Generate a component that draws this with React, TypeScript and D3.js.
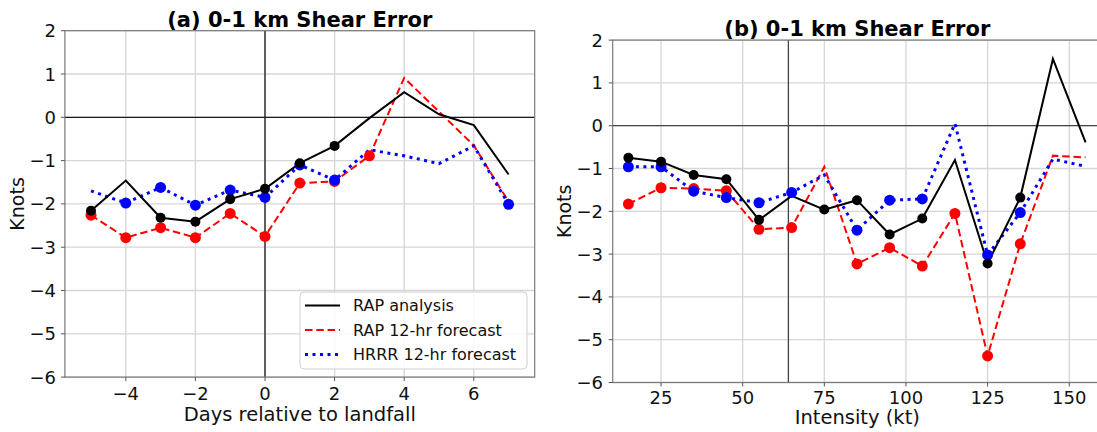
import React from 'react';
import * as d3 from 'd3';

// ---------- data ----------
const daysX = [-5, -4, -3, -2, -1, 0, 1, 2, 3, 4, 5, 6, 7];
const aRapAnalysis = [-2.16, -1.46, -2.32, -2.41, -1.89, -1.65, -1.06, -0.66, -0.02, 0.58, 0.07, -0.18, -1.32];
const aRapAnalysisSig = [1, 0, 1, 1, 1, 1, 1, 1, 0, 0, 0, 0, 0];
const aRap12 = [-2.26, -2.78, -2.55, -2.78, -2.22, -2.75, -1.52, -1.48, -0.89, 0.91, 0.13, -0.65, -1.95];
const aRap12Sig = [1, 1, 1, 1, 1, 1, 1, 1, 1, 0, 0, 0, 0];
const aHrrr12 = [-1.7, -1.98, -1.62, -2.03, -1.68, -1.85, -1.1, -1.45, -0.75, -0.89, -1.07, -0.66, -2.01];
const aHrrr12Sig = [0, 1, 1, 1, 1, 1, 1, 1, 0, 0, 0, 0, 1];

const intensityX = [15, 25, 35, 45, 55, 65, 75, 85, 95, 105, 115, 125, 135, 145, 155];
const bRapAnalysis = [-0.75, -0.84, -1.15, -1.25, -2.2, -1.64, -1.96, -1.74, -2.54, -2.17, -0.8, -3.22, -1.68, 1.56, -0.39];
const bRapAnalysisSig = [1, 1, 1, 1, 1, 0, 1, 1, 1, 1, 0, 1, 1, 0, 0];
const bRap12 = [-1.83, -1.45, -1.47, -1.52, -2.42, -2.38, -0.96, -3.23, -2.85, -3.28, -2.05, -5.38, -2.76, -0.7, -0.74];
const bRap12Sig = [1, 1, 1, 1, 1, 1, 0, 1, 1, 1, 1, 1, 1, 0, 0];
const bHrrr12 = [-0.96, -0.96, -1.53, -1.68, -1.8, -1.56, -1.15, -2.44, -1.74, -1.71, 0.05, -3.02, -2.03, -0.78, -0.95];
const bHrrr12Sig = [1, 1, 1, 1, 1, 1, 0, 1, 1, 1, 0, 1, 1, 0, 0];

const yTicks = [2, 1, 0, -1, -2, -3, -4, -5, -6];
const aXTicks = [-4, -2, 0, 2, 4, 6];
const bXTicks = [25, 50, 75, 100, 125, 150];
const legendLabels = ['RAP analysis', 'RAP 12-hr forecast', 'HRRR 12-hr forecast'];

const FONT = 'DejaVu Sans, sans-serif';
const fmt = (v: number) => (v < 0 ? '\u2212' + Math.abs(v) : String(v));

const styles = [
  { color: '#000000', dash: 'none', width: 2, r: 5 },
  { color: '#ff0000', dash: '7.5,3.8', width: 2, r: 5.5 },
  { color: '#0000ff', dash: '3,4.5', width: 3, r: 5.5 },
];

type PanelProps = {
  title: string;
  xlabel: string;
  xs: number[];
  series: number[][];
  sig: number[][];
  xDomain: [number, number];
  xRange: [number, number];
  yRange: [number, number];
  xTicks: number[];
  vline: number;
  titleY: number;
  tickY: number;
  labelY: number;
  ylabelX: number;
  yTickX: number;
  axisColor: string;
  legend: boolean;
  clipId: string;
};

function Panel(p: PanelProps) {
  const x = d3.scaleLinear().domain(p.xDomain).range(p.xRange);
  const y = d3.scaleLinear().domain([2, -6]).range(p.yRange);
  const [x0, x1] = p.xRange;
  const [y0, y1] = p.yRange;
  const line = d3.line<[number, number]>().x((d) => x(d[0])).y((d) => y(d[1]));
  const order = [1, 2, 0];
  return (
    <g>
      <defs>
        <clipPath id={p.clipId}>
          <rect x={x0} y={y0} width={x1 - x0} height={y1 - y0} />
        </clipPath>
      </defs>
      {/* grid */}
      {p.xTicks.map((t) => (
        <line key={'gx' + t} x1={x(t)} x2={x(t)} y1={y0} y2={y1} stroke="#d6d6d6" strokeWidth={1.3} />
      ))}
      {yTicks.map((t) => (
        <line key={'gy' + t} x1={x0} x2={x1} y1={y(t)} y2={y(t)} stroke="#d6d6d6" strokeWidth={1.3} />
      ))}
      {/* reference lines */}
      <line x1={x0} x2={x1} y1={y(0)} y2={y(0)} stroke={p.axisColor} strokeWidth={1.3} />
      <line x1={x(p.vline)} x2={x(p.vline)} y1={y0} y2={y1} stroke={p.axisColor} strokeWidth={1.3} />
      {/* series */}
      <g clipPath={`url(#${p.clipId})`}>
        {order.map((si) => {
          const s = styles[si];
          const pts: [number, number][] = p.xs.map((xv, i) => [xv, p.series[si][i]]);
          return (
            <path
              key={'l' + si}
              d={line(pts) || ''}
              fill="none"
              stroke={s.color}
              strokeWidth={s.width}
              strokeDasharray={s.dash}
            />
          );
        })}
        {order.map((si) => {
          const s = styles[si];
          return p.xs.map((xv, i) =>
            p.sig[si][i] ? (
              <circle key={'m' + si + '-' + i} cx={x(xv)} cy={y(p.series[si][i])} r={s.r} fill={s.color} />
            ) : null
          );
        })}
      </g>
      {/* frame */}
      <rect x={x0} y={y0} width={x1 - x0} height={y1 - y0} fill="none" stroke="#7a7a7a" strokeWidth={1.2} />
      {/* ticks */}
      {p.xTicks.map((t) => (
        <g key={'tx' + t}>
          <line x1={x(t)} x2={x(t)} y1={y1} y2={y1 + 4} stroke="#555" strokeWidth={1} />
          <text x={x(t)} y={p.tickY} fontSize={18} fontFamily={FONT} textAnchor="middle" fill="#111">
            {fmt(t)}
          </text>
        </g>
      ))}
      {yTicks.map((t) => (
        <g key={'ty' + t}>
          <line x1={x0 - 4} x2={x0} y1={y(t)} y2={y(t)} stroke="#555" strokeWidth={1} />
          <text x={p.yTickX} y={y(t) + 6.5} fontSize={18} fontFamily={FONT} textAnchor="end" fill="#111">
            {fmt(t)}
          </text>
        </g>
      ))}
      {/* labels */}
      <text x={(x0 + x1) / 2} y={p.titleY} fontSize={21} fontWeight="bold" fontFamily={FONT} textAnchor="middle" fill="#000">
        {p.title}
      </text>
      <text x={(x0 + x1) / 2} y={p.labelY} fontSize={19.5} fontFamily={FONT} textAnchor="middle" fill="#111">
        {p.xlabel}
      </text>
      <text
        transform={`translate(${p.ylabelX},${(y0 + y1) / 2}) rotate(-90)`}
        fontSize={19}
        fontFamily={FONT}
        textAnchor="middle"
        fill="#111"
      >
        Knots
      </text>
      {p.legend && (
        <g>
          <rect x={300} y={292} width={227} height={77} rx={4} fill="white" fillOpacity={0.85} stroke="#d0d0d0" strokeWidth={1} />
          {legendLabels.map((lab, i) => {
            const s = styles[i];
            const ly = 305.5 + i * 24.5;
            return (
              <g key={'lg' + i}>
                <line x1={305} x2={340} y1={ly} y2={ly} stroke={s.color} strokeWidth={s.width} strokeDasharray={s.dash} />
                <text x={353} y={ly + 5.8} fontSize={16} fontFamily={FONT} fill="#111">
                  {lab}
                </text>
              </g>
            );
          })}
        </g>
      )}
    </g>
  );
}

export default function App() {
  return (
    <div>
      <style>{`body{margin:0;background:#fff}`}</style>
      <svg width={1097} height={432} style={{ display: 'block', background: '#fff' }}>
        <Panel
          title="(a) 0-1 km Shear Error"
          xlabel="Days relative to landfall"
          xs={daysX}
          series={[aRapAnalysis, aRap12, aHrrr12]}
          sig={[aRapAnalysisSig, aRap12Sig, aHrrr12Sig]}
          xDomain={[-5.75, 7.75]}
          xRange={[64.9, 534.7]}
          yRange={[30.7, 377.1]}
          xTicks={aXTicks}
          vline={0}
          titleY={26.5}
          tickY={400}
          labelY={420.5}
          ylabelX={24}
          yTickX={56}
          axisColor="#1a1a1a"
          legend={true}
          clipId="clipA"
        />
        <Panel
          title="(b) 0-1 km Shear Error"
          xlabel="Intensity (kt)"
          xs={intensityX}
          series={[bRapAnalysis, bRap12, bHrrr12]}
          sig={[bRapAnalysisSig, bRap12Sig, bHrrr12Sig]}
          xDomain={[10.2, 160]}
          xRange={[612.7, 1101.9]}
          yRange={[40.1, 382.5]}
          xTicks={bXTicks}
          vline={64}
          titleY={35.5}
          tickY={404}
          labelY={424}
          ylabelX={571}
          yTickX={603}
          axisColor="#444444"
          legend={false}
          clipId="clipB"
        />
      </svg>
    </div>
  );
}
